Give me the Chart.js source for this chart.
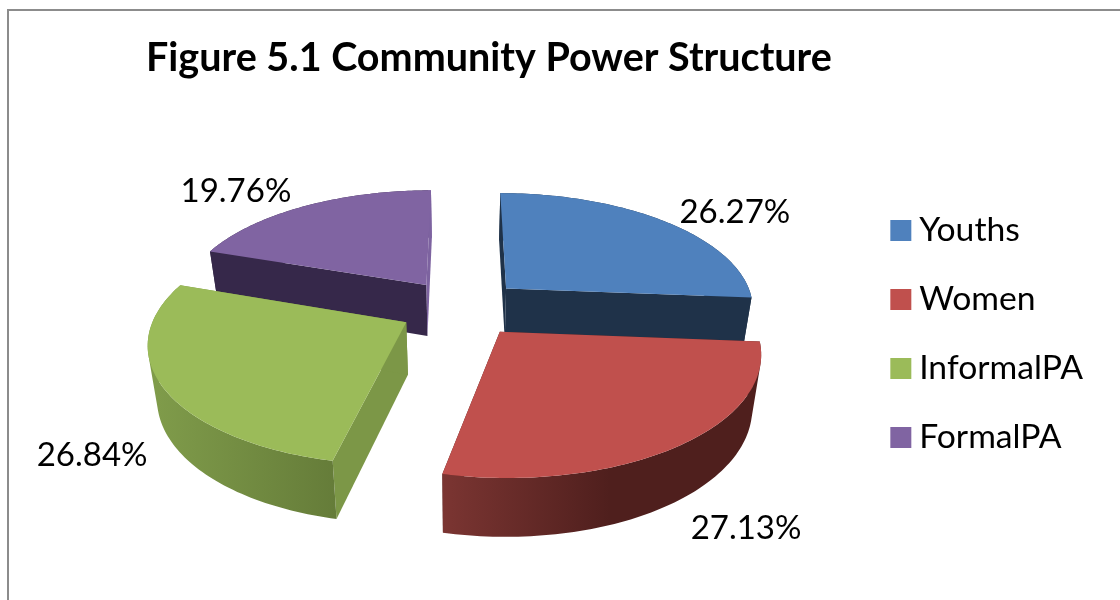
<!DOCTYPE html>
<html>
<head>
<meta charset="utf-8">
<title>Community Power Structure</title>
<script src="https://cdn.jsdelivr.net/npm/chart.js@4"></script>
<style>
  body { margin: 0; background: #fff; }
  #frame { position: absolute; left: 7px; top: 9px; width: 1113px; height: 591px; box-sizing: border-box;
           border-left: 2px solid #8c8c8c; border-top: 2px solid #8c8c8c; }
  #powerChart { position: absolute; left: 0; top: 0; }
</style>
</head>
<body>
<div id="frame"></div>
<canvas id="powerChart" width="1120" height="600"></canvas>
<script>
const titleText = "Figure 5.1 Community Power Structure";
const groupNames = ["Youths", "Women", "InformalPA", "FormalPA"];
const groupShares = [26.27, 27.13, 26.84, 19.76];
const faceColors = ["#4F81BD", "#C0504D", "#9BBB59", "#8064A2"];
// cut faces of each slice: [at start angle, at end angle]
const wallColors = [
  ["#1f3249", "#1f3249"],
  ["#4f1f1d", "#4f1f1d"],
  ["#7c9747", "#7c9747"],
  ["#36284a", "#7d63a0"]
];
const rimStops = [
  [[0, "#1f3249"], [1, "#1f3249"]],
  [[0, "#7b3532"], [0.54, "#4f1f1d"], [1, "#4f1f1d"]],
  [[0, "#7f9b4a"], [1, "#657c39"]],
  [[0, "#36284a"], [0.98, "#36284a"], [0.985, "#7d63a0"], [1, "#7d63a0"]]
];
const drawOrder = [3, 0, 2, 1]; // back slices first
const labelShift = [[71, -9], [65, 83], [-70, 69], [-69, -15]];

// tilted, exploded view of the flat pie
const view = {
  shiftX: -43.5, shiftY: -43.5,
  stretchX: 1.001, stretchY: 0.4647,
  perspective: 0.154, explode: 0.25,
  shrink: 0.97, depth: 52, depthGrow: 0.04
};

function piePoint(arc, angle, radius) {
  const mid = (arc.startAngle + arc.endAngle) / 2;
  const wx = view.explode * Math.cos(mid) + radius * Math.cos(angle);
  const wy = view.explode * Math.sin(mid) + radius * Math.sin(angle);
  const f = 1 / (1 - view.perspective * wy);
  return {
    x: arc.x + view.shiftX + arc.outerRadius * view.stretchX * wx * f,
    y: arc.y + view.shiftY + arc.outerRadius * view.stretchY * wy * f
  };
}

function lowerPoint(arc, p) {
  const cx = arc.x + view.shiftX;
  const cy = arc.y + view.shiftY;
  return {
    x: cx + (p.x - cx) * view.shrink,
    y: p.y + view.depth + (p.y - cy) * view.depthGrow
  };
}

function rimPoints(arc) {
  const pts = [];
  for (let i = 0; i <= 80; i++) {
    pts.push(piePoint(arc, arc.startAngle + (arc.endAngle - arc.startAngle) * i / 80, 1));
  }
  return pts;
}

function fillPath(ctx, pts, fill) {
  ctx.beginPath();
  pts.forEach((p, i) => i ? ctx.lineTo(p.x, p.y) : ctx.moveTo(p.x, p.y));
  ctx.closePath();
  ctx.fillStyle = fill;
  ctx.fill();
}

function signedArea(pts) {
  return pts.reduce((sum, p, i) => {
    const q = pts[(i + 1) % pts.length];
    return sum + p.x * q.y - q.x * p.y;
  }, 0);
}

// the side is swept as one path of same-wound quads, so its outline follows the
// tangent at the pie's edge and no seams show between the quads
function fillRim(ctx, rim, lowRim, paint) {
  ctx.beginPath();
  for (let i = 0; i < rim.length - 1; i++) {
    const quad = [rim[i], rim[i + 1], lowRim[i + 1], lowRim[i]];
    if (signedArea(quad) < 0) quad.reverse();
    quad.forEach((p, k) => k ? ctx.lineTo(p.x, p.y) : ctx.moveTo(p.x, p.y));
    ctx.closePath();
  }
  ctx.fillStyle = paint;
  ctx.fill();
}

const solidPie = {
  id: "solidPie",
  beforeDatasetsDraw(chart) {
    const ctx = chart.ctx;
    const arcs = chart.getDatasetMeta(0).data;

    drawOrder.forEach(i => {
      const arc = arcs[i];
      const rim = rimPoints(arc);
      const apex = piePoint(arc, arc.startAngle, 0);
      const lowRim = rim.map(p => lowerPoint(arc, p));
      const lowApex = lowerPoint(arc, apex);

      const xs = lowRim.map(p => p.x);
      const grad = ctx.createLinearGradient(Math.min(...xs), 0, Math.max(...xs), 0);
      rimStops[i].forEach(([at, color]) => grad.addColorStop(at, color));

      fillPath(ctx, [apex, rim[0], lowRim[0], lowApex], wallColors[i][0]);
      fillPath(ctx, [apex, rim[rim.length - 1], lowRim[lowRim.length - 1], lowApex], wallColors[i][1]);
      fillRim(ctx, rim, lowRim, grad);
      fillPath(ctx, [apex, ...rim], faceColors[i]);
    });

    ctx.save();
    ctx.font = "33px Lato";
    ctx.fillStyle = "#000";
    ctx.textAlign = "center";
    ctx.textBaseline = "middle";
    arcs.forEach((arc, i) => {
      const p = piePoint(arc, (arc.startAngle + arc.endAngle) / 2, 1);
      ctx.fillText(groupShares[i].toFixed(2) + "%", p.x + labelShift[i][0], p.y + labelShift[i][1]);
    });
    ctx.restore();
    return false;
  }
};

new Chart(document.getElementById("powerChart"), {
  type: "pie",
  data: {
    labels: groupNames,
    datasets: [{ data: groupShares, backgroundColor: faceColors, borderWidth: 0 }]
  },
  options: {
    responsive: false,
    animation: false,
    layout: { padding: { left: 146, right: 27, top: 25, bottom: -43 } },
    plugins: {
      tooltip: { enabled: false },
      title: {
        display: true,
        text: titleText,
        align: "start",
        color: "#000",
        font: { family: "Lato", size: 39.5, weight: "bold" },
        padding: { top: 10, bottom: 20 }
      },
      legend: {
        position: "right",
        labels: {
          usePointStyle: true,
          pointStyle: "rect",
          boxWidth: 3,
          boxHeight: 21,
          color: "#000",
          padding: 35.3,
          font: { family: "Lato", size: 33.7 }
        }
      }
    }
  },
  plugins: [solidPie]
});
</script>
</body>
</html>
